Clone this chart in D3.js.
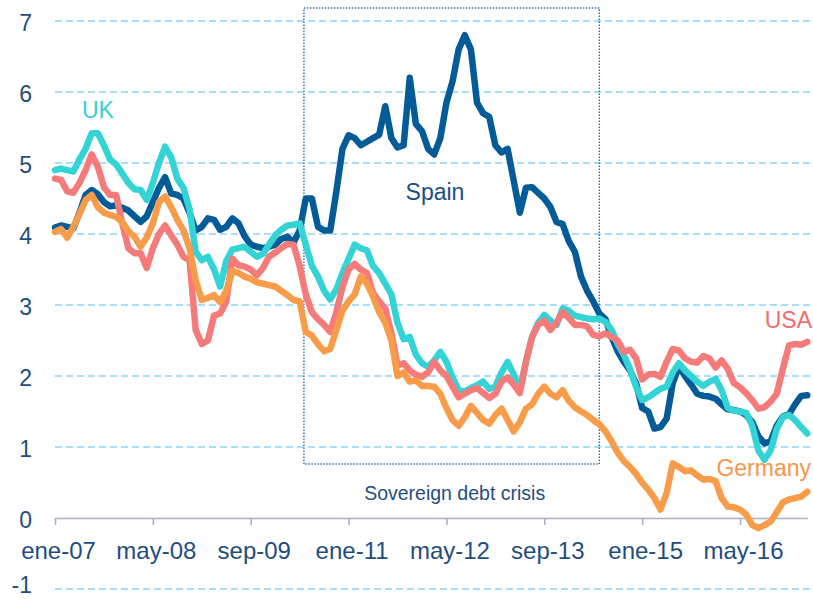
<!DOCTYPE html>
<html>
<head>
<meta charset="utf-8">
<script src="https://cdn.jsdelivr.net/npm/d3@7"></script>
<style>
  html, body { margin: 0; padding: 0; background: #ffffff; }
  svg { display: block; font-family: "Liberation Sans", Arial, sans-serif; }
</style>
</head>
<body>
<svg id="chart" width="813" height="599"></svg>
<script>
// ---------- DATA (monthly, ene-07 .. abr-17) ----------
const xTickMonths = [0, 16, 32, 48, 64, 80, 96, 112];
const xTickLabels = ["ene-07", "may-08", "sep-09", "ene-11", "may-12", "sep-13", "ene-15", "may-16"];
const yTicks = [-1, 0, 1, 2, 3, 4, 5, 6, 7];

const spain = [4.09,4.12,4.10,4.08,4.30,4.55,4.62,4.56,4.45,4.39,4.40,4.37,4.33,4.25,4.17,4.25,4.45,4.65,4.80,4.57,
  4.55,4.50,4.30,4.05,4.10,4.22,4.20,4.06,4.10,4.22,4.15,3.97,3.85,3.82,3.80,3.82,3.85,3.93,3.96,3.88,
  4.05,4.50,4.50,4.10,4.05,4.05,4.60,5.20,5.39,5.35,5.25,5.30,5.35,5.40,5.80,5.35,5.22,5.25,6.20,5.55,
  5.45,5.20,5.12,5.35,5.85,6.15,6.60,6.80,6.60,5.85,5.70,5.65,5.25,5.15,5.20,4.75,4.30,4.65,4.66,4.58,
  4.50,4.38,4.17,4.14,3.90,3.75,3.40,3.20,3.05,2.88,2.80,2.55,2.35,2.20,2.08,1.90,1.55,1.50,1.26,1.28,
  1.40,1.90,2.13,2.00,1.88,1.75,1.72,1.71,1.68,1.60,1.53,1.52,1.50,1.45,1.35,1.15,1.05,1.08,1.30,1.43,
  1.46,1.60,1.72,1.73];
const uk = [4.90,4.92,4.90,4.88,5.05,5.20,5.42,5.42,5.25,5.05,4.98,4.85,4.72,4.63,4.62,4.48,4.72,5.00,5.23,5.08,
  4.78,4.65,4.35,3.75,3.63,3.68,3.50,3.26,3.62,3.78,3.80,3.82,3.75,3.68,3.72,3.85,3.98,4.06,4.12,4.13,
  4.15,3.85,3.55,3.40,3.20,3.08,3.22,3.45,3.65,3.85,3.80,3.77,3.55,3.45,3.30,3.15,2.75,2.52,2.55,2.30,
  2.18,2.13,2.22,2.34,2.20,1.98,1.80,1.78,1.83,1.87,1.92,1.82,1.85,2.05,2.20,2.02,1.80,2.20,2.55,2.75,
  2.86,2.78,2.72,2.95,2.92,2.85,2.83,2.81,2.80,2.81,2.76,2.65,2.45,2.30,2.10,1.85,1.66,1.70,1.76,1.82,
  1.85,2.05,2.18,2.08,2.00,1.92,1.86,1.92,1.96,1.80,1.55,1.51,1.50,1.48,1.30,0.95,0.82,0.95,1.25,1.42,
  1.45,1.38,1.28,1.19];
const usa = [4.78,4.76,4.60,4.58,4.72,4.90,5.12,4.95,4.66,4.55,4.55,4.15,3.80,3.73,3.73,3.52,3.80,4.00,4.12,3.98,
  3.85,3.68,3.63,2.65,2.45,2.50,2.85,2.88,3.05,3.65,3.56,3.54,3.50,3.42,3.52,3.68,3.74,3.80,3.86,3.85,
  3.55,3.15,2.90,2.80,2.72,2.62,2.90,3.25,3.50,3.58,3.50,3.45,3.17,3.05,2.95,2.60,2.15,2.18,2.08,2.02,
  1.99,2.05,2.20,2.08,2.00,1.85,1.70,1.75,1.80,1.83,1.76,1.69,1.75,1.92,1.98,1.88,1.76,2.20,2.55,2.72,
  2.78,2.65,2.75,2.90,2.82,2.72,2.72,2.70,2.58,2.56,2.60,2.55,2.50,2.34,2.37,2.25,1.95,2.02,2.03,1.99,
  2.20,2.38,2.36,2.25,2.20,2.19,2.28,2.25,2.12,2.22,2.10,1.90,1.84,1.76,1.66,1.54,1.56,1.64,1.75,2.10,
  2.43,2.45,2.44,2.48];
const germany = [4.03,4.07,3.95,4.10,4.28,4.48,4.55,4.38,4.30,4.27,4.24,4.17,4.04,3.96,3.82,3.95,4.15,4.45,4.53,4.38,
  4.20,4.05,3.80,3.35,3.07,3.10,3.14,3.04,3.20,3.48,3.45,3.40,3.37,3.32,3.30,3.28,3.26,3.20,3.14,3.07,
  3.05,2.62,2.57,2.45,2.35,2.38,2.65,2.92,3.05,3.15,3.40,3.30,3.12,2.90,2.75,2.50,2.00,2.05,1.92,1.94,
  1.86,1.86,1.85,1.75,1.55,1.38,1.30,1.42,1.58,1.48,1.38,1.33,1.45,1.54,1.38,1.22,1.35,1.54,1.60,1.75,
  1.85,1.75,1.70,1.80,1.65,1.56,1.50,1.45,1.38,1.32,1.22,1.08,0.92,0.80,0.72,0.62,0.50,0.40,0.28,0.12,
  0.35,0.77,0.72,0.66,0.67,0.60,0.54,0.55,0.52,0.28,0.16,0.15,0.12,0.05,-0.10,-0.14,-0.10,-0.05,0.08,0.22,
  0.26,0.28,0.30,0.37];

const seriesNames = ["Spain", "UK", "USA", "Germany"];
const crisisLabel = "Sovereign debt crisis";
const crisisStartMonth = 40.7;   // ~may-10
const crisisEndMonth = 89;       // ~jun-14

// ---------- STYLE ----------
const colors = { Spain: "#035B97", UK: "#33D3D6", USA: "#F47B79", Germany: "#F99C4A" };
const textColors = { Spain: "#1B4F85", UK: "#38CFD2", USA: "#F06D6F", Germany: "#F7964A" };
const axisText = "#1F4E7E";

const svg = d3.select("#chart");
const x = d3.scaleLinear().domain([0, 123]).range([55, 807.3]);
const y = d3.scaleLinear().domain([-1, 7]).range([589, 21]);

// gridlines (dashed), except 0 which is the axis
svg.append("g").selectAll("line")
  .data(yTicks.filter(d => d !== 0))
  .join("line")
  .attr("x1", 55).attr("x2", 810)
  .attr("y1", d => y(d)).attr("y2", d => y(d))
  .attr("stroke", "#8DD2FB").attr("stroke-width", 1.6)
  .attr("stroke-dasharray", "7,4");

// y labels
svg.append("g").selectAll("text")
  .data(yTicks)
  .join("text")
  .attr("x", 32).attr("y", d => Math.min(y(d) + 10, 593))
  .attr("text-anchor", "end")
  .attr("font-size", 23)
  .attr("fill", axisText)
  .text(d => d);

// crisis box
svg.append("rect")
  .attr("x", x(crisisStartMonth)).attr("y", 8)
  .attr("width", x(crisisEndMonth) - x(crisisStartMonth))
  .attr("height", y(0.76) - 8)
  .attr("fill", "none")
  .attr("stroke", "#2F6EA5").attr("stroke-width", 1.4)
  .attr("stroke-dasharray", "1.4,1.6");

svg.append("text")
  .attr("x", (x(crisisStartMonth) + x(crisisEndMonth)) / 2 + 3)
  .attr("y", 500)
  .attr("text-anchor", "middle")
  .attr("font-size", 19.5)
  .attr("fill", axisText)
  .text(crisisLabel);

// x axis
const xAxis = d3.axisBottom(x)
  .tickValues(xTickMonths)
  .tickFormat((d, i) => xTickLabels[i])
  .tickSize(7)
  .tickSizeOuter(0)
  .tickPadding(17);
const gx = svg.append("g").attr("transform", `translate(0,${y(0)})`).call(xAxis);
gx.select(".domain").attr("stroke", "#A9B1C2").attr("stroke-width", 1.6);
gx.selectAll(".tick line").attr("stroke", "#A9B1C2").attr("stroke-width", 1.6);
gx.selectAll(".tick text")
  .attr("font-size", 24)
  .attr("font-family", "Liberation Sans, Arial, sans-serif")
  .attr("fill", axisText)
  .attr("dx", 3);

// lines
const line = d3.line().x((d, i) => x(i)).y(d => y(d)).curve(d3.curveLinear);
const seriesData = { Spain: spain, UK: uk, USA: usa, Germany: germany };
svg.append("g").selectAll("path")
  .data(seriesNames)
  .join("path")
  .attr("d", n => line(seriesData[n]))
  .attr("fill", "none")
  .attr("stroke", n => colors[n])
  .attr("stroke-width", 6.5)
  .attr("stroke-linejoin", "round")
  .attr("stroke-linecap", "round");

// series labels
const labelPos = [
  { name: "UK", x: 82, y: 118, anchor: "start" },
  { name: "Spain", x: 435, y: 200, anchor: "middle" },
  { name: "USA", x: 812, y: 328, anchor: "end" },
  { name: "Germany", x: 811, y: 476, anchor: "end" }
];
svg.append("g").selectAll("text")
  .data(labelPos)
  .join("text")
  .attr("x", d => d.x).attr("y", d => d.y)
  .attr("text-anchor", d => d.anchor)
  .attr("font-size", 23)
  .attr("fill", d => textColors[d.name])
  .text(d => d.name);
</script>
</body>
</html>
